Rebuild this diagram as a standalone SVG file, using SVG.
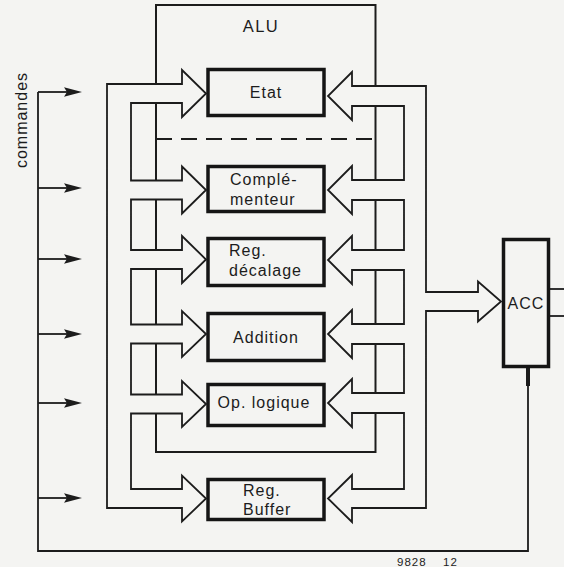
<svg xmlns="http://www.w3.org/2000/svg" width="564" height="567" viewBox="0 0 564 567">
<style>
.ln{fill:none;stroke:#1c1c1c;stroke-width:1.8;stroke-linejoin:miter}
.bus{fill:#f4f4f2;stroke:#1c1c1c;stroke-width:1.8;stroke-linejoin:miter}
.box{fill:#f4f4f2;stroke:#151515;stroke-width:3.5}
.t{font-family:"Liberation Sans",Arial,sans-serif;font-size:16px;letter-spacing:1px;fill:#1c1c1c}
.tm{text-anchor:middle}
.ah{fill:#1c1c1c}
</style>
<defs>
<polygon id="cmd" points="82,0 64,-4.8 67,0 64,4.8"/>
</defs>
<rect width="564" height="567" fill="#f4f4f2"/>

<g id="alu">
<rect class="ln" x="156" y="5" width="219.5" height="447" style="stroke-width:2"/>
<line class="ln" x1="156" y1="139" x2="375" y2="139" stroke-dasharray="16 9" style="stroke-width:2"/>
<text class="t tm" x="261" y="32" style="font-size:16.5px;letter-spacing:1.5px">ALU</text>
</g>

<g id="connectors">
<path class="bus" d="M182,84 L107,84 L107,508 L182,508 L182,521.5 L206,498.5 L182,475.5 L182,489 L131,489 L131,413.5 L182,413.5 L182,427 L206,404 L182,381 L182,394.5 L131,394.5 L131,343.5 L182,343.5 L182,357 L206,334 L182,311 L182,324.5 L131,324.5 L131,269 L182,269 L182,283 L206,259.5 L182,236 L182,250 L131,250 L131,199.5 L182,199.5 L182,213.5 L206,190 L182,166.5 L182,180.5 L131,180.5 L131,103 L182,103 L182,117 L206,93.5 L182,70 Z"/>
<path class="bus" d="M352,86 L426,86 L426,292 L478,292 L478,281.5 L501,301.5 L478,321.5 L478,311 L426,311 L426,508 L352,508 L352,522 L328,498.5 L352,475 L352,489 L404,489 L404,413 L352,413 L352,427 L328,403 L352,379 L352,393 L404,393 L404,344 L352,344 L352,358 L328,334 L352,310 L352,324 L404,324 L404,270 L352,270 L352,284 L328,260 L352,236 L352,250 L404,250 L404,200 L352,200 L352,214 L328,190 L352,166 L352,180 L404,180 L404,106 L352,106 L352,120 L328,96 L352,72 Z"/>
<polyline class="ln" points="38,92 38,551 528,551 528,368"/>
<line class="ln" x1="528" y1="368" x2="528" y2="386" style="stroke-width:4"/>
<line class="ln" x1="38" y1="92" x2="70" y2="92"/>
<line class="ln" x1="38" y1="188" x2="70" y2="188"/>
<line class="ln" x1="38" y1="259" x2="70" y2="259"/>
<line class="ln" x1="38" y1="334" x2="70" y2="334"/>
<line class="ln" x1="38" y1="403" x2="70" y2="403"/>
<line class="ln" x1="38" y1="498" x2="70" y2="498"/>
<use href="#cmd" class="ah" x="0" y="92"/>
<use href="#cmd" class="ah" x="0" y="188"/>
<use href="#cmd" class="ah" x="0" y="259"/>
<use href="#cmd" class="ah" x="0" y="334"/>
<use href="#cmd" class="ah" x="0" y="403"/>
<use href="#cmd" class="ah" x="0" y="498"/>
<line class="ln" x1="550" y1="289" x2="564" y2="289"/>
<line class="ln" x1="550" y1="316" x2="564" y2="316"/>
</g>

<g id="etat">
<rect class="box" x="208" y="69.5" width="116" height="46"/>
<text class="t tm" x="266" y="98">Etat</text>
</g>
<g id="complementeur">
<rect class="box" x="208" y="166.5" width="116" height="45"/>
<text class="t" x="230" y="185">Complé-</text>
<text class="t" x="230" y="205">menteur</text>
</g>
<g id="decalage">
<rect class="box" x="208" y="238.5" width="116" height="47"/>
<text class="t" x="229" y="256">Reg.</text>
<text class="t" x="229" y="276">décalage</text>
</g>
<g id="addition">
<rect class="box" x="208" y="313.5" width="116" height="47"/>
<text class="t tm" x="266" y="343">Addition</text>
</g>
<g id="oplogique">
<rect class="box" x="208" y="384.5" width="116" height="41"/>
<text class="t tm" x="264" y="408">Op. logique</text>
</g>
<g id="buffer">
<rect class="box" x="208" y="479.5" width="116" height="40"/>
<text class="t" x="243" y="496">Reg.</text>
<text class="t" x="243" y="515">Buffer</text>
</g>
<g id="acc">
<rect class="box" x="503.5" y="239.5" width="45" height="127"/>
<text class="t tm" x="526" y="309">ACC</text>
</g>
<g id="labels">
<text class="t tm" transform="translate(27,120) rotate(-90)">commandes</text>
<text class="t" x="397" y="566" style="font-size:11.5px;letter-spacing:1px">9828</text>
<text class="t" x="443" y="566" style="font-size:11.5px;letter-spacing:1px">12</text>
</g>
</svg>
